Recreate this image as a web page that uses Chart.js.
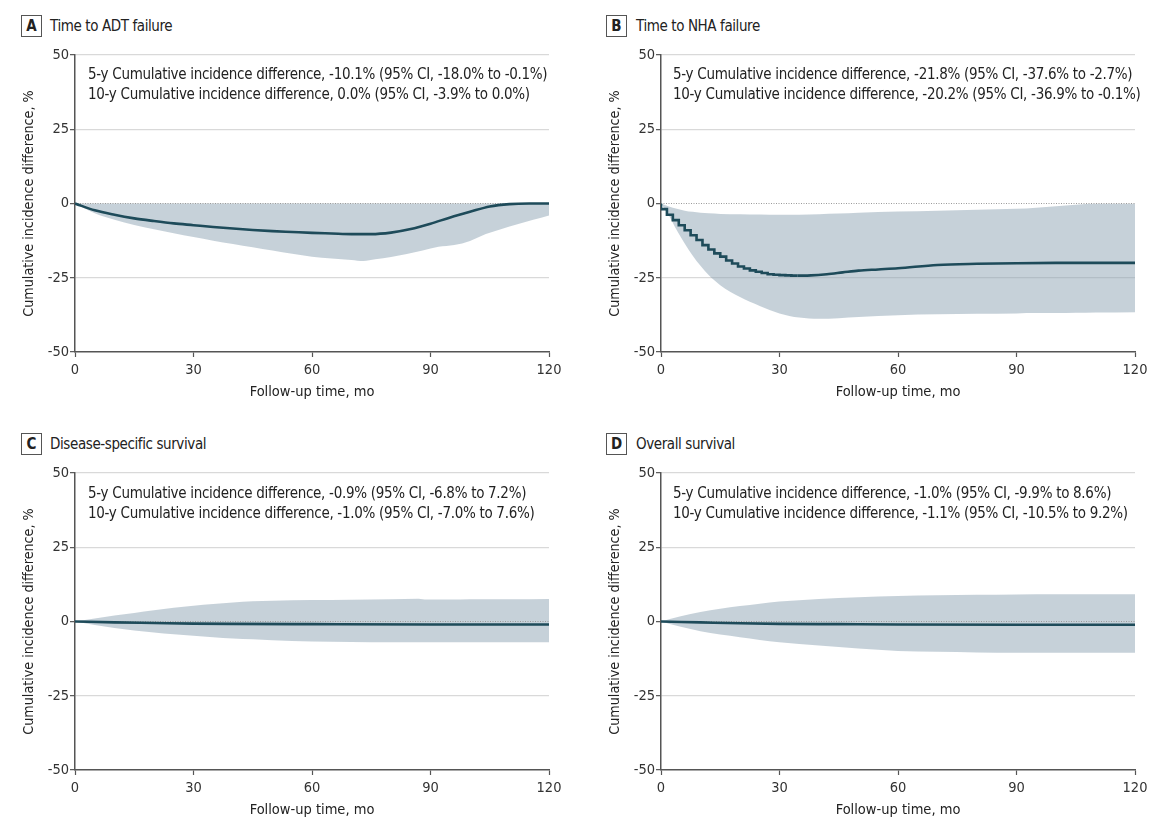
<!DOCTYPE html>
<html>
<head>
<meta charset="utf-8">
<script src="https://cdn.jsdelivr.net/npm/chart.js@4.4.0/dist/chart.umd.min.js"></script>
<style>
  body { margin: 0; background: #fff; overflow: hidden; font-family: 'DejaVu Sans Condensed', 'Liberation Sans Narrow', sans-serif; color: #222; }
  #wrap { position: relative; width: 1173px; height: 821px; }
  canvas { position: absolute; }
  .box { position: absolute; width: 19px; height: 20px; border: 1px solid #555; font-weight: bold; font-size: 15px; text-align: center; line-height: 20px; }
  .ttl { position: absolute; font-size: 15px; letter-spacing: -0.4px; line-height: 20px; }
  .note { position: absolute; font-size: 15px; letter-spacing: -0.3px; line-height: 20px; white-space: nowrap; }
</style>
</head>
<body>
<div id="wrap">
  <div class="box" style="left:21px;top:15px">A</div><div class="ttl" style="left:50px;top:16px">Time to ADT failure</div>
  <div class="box" style="left:606px;top:15px">B</div><div class="ttl" style="left:636px;top:16px">Time to NHA failure</div>
  <div class="box" style="left:21px;top:433px">C</div><div class="ttl" style="left:50px;top:434px">Disease-specific survival</div>
  <div class="box" style="left:606px;top:433px">D</div><div class="ttl" style="left:636px;top:434px">Overall survival</div>

  <canvas id="cA" width="575" height="358" style="left:0px;top:45px"></canvas>
  <canvas id="cB" width="575" height="358" style="left:586px;top:45px"></canvas>
  <canvas id="cC" width="575" height="358" style="left:0px;top:463px"></canvas>
  <canvas id="cD" width="575" height="358" style="left:586px;top:463px"></canvas>

  <div class="note" style="left:88px;top:64px">5-y Cumulative incidence difference, -10.1% (95% CI, -18.0% to -0.1%)<br>10-y Cumulative incidence difference, 0.0% (95% CI, -3.9% to 0.0%)</div>
  <div class="note" style="left:673px;top:64px">5-y Cumulative incidence difference, -21.8% (95% CI, -37.6% to -2.7%)<br>10-y Cumulative incidence difference, -20.2% (95% CI, -36.9% to -0.1%)</div>
  <div class="note" style="left:88px;top:483px">5-y Cumulative incidence difference, -0.9% (95% CI, -6.8% to 7.2%)<br>10-y Cumulative incidence difference, -1.0% (95% CI, -7.0% to 7.6%)</div>
  <div class="note" style="left:673px;top:483px">5-y Cumulative incidence difference, -1.0% (95% CI, -9.9% to 8.6%)<br>10-y Cumulative incidence difference, -1.1% (95% CI, -10.5% to 9.2%)</div>
</div>
<script>
// axis ticks
const xTicks = [0, 30, 60, 90, 120];
const yTicks = [-50, -25, 0, 25, 50];

// A: time to ADT failure
const bandMonthsA = [0, 5, 10, 15, 20, 25, 30, 35, 40, 45, 50, 55, 60, 65, 70, 73, 76, 80, 84, 88, 92, 96, 100, 104, 108, 112, 116, 120];
const lowerA = [0, -3.3, -5.5, -7.2, -8.7, -10, -11.3, -12.5, -13.6, -14.7, -15.8, -16.9, -17.9, -18.5, -19.0, -19.4, -18.8, -18.0, -17.0, -15.8, -14.6, -14.0, -12.6, -10.3, -8.6, -7.0, -5.5, -4.0];
const upperA = [0, 0, 0, 0, 0, 0, 0, 0, 0, 0, 0, 0, 0, 0, 0, 0, 0, 0, 0, 0, 0, 0, 0, 0, 0, 0, 0, 0];
const lineMonthsA = [0, 5, 10, 15, 20, 25, 30, 35, 40, 45, 50, 55, 60, 65, 70, 75, 80, 85, 90, 95, 100, 105, 110, 115, 120];
const lineA = [0, -2.3, -3.8, -5.0, -5.9, -6.7, -7.3, -7.9, -8.4, -8.9, -9.3, -9.6, -9.9, -10.1, -10.3, -10.3, -9.8, -8.6, -6.8, -4.7, -2.8, -1.0, -0.2, 0, 0];

// B: time to NHA failure
const bandMonthsB = [0, 2, 4, 6, 8, 10, 12, 15, 20, 25, 30, 35, 40, 45, 50, 60, 70, 80, 90, 95, 100, 105, 110, 120];
const lowerB = [0, -4, -9, -13.5, -17.5, -21, -24, -27.5, -31.5, -34.5, -37, -38.4, -38.8, -38.6, -38.2, -37.6, -37.3, -37.1, -37.0, -36.9, -36.9, -36.8, -36.7, -36.6];
const upperB = [0, -1.0, -1.8, -2.4, -2.8, -3.1, -3.3, -3.5, -3.6, -3.7, -3.8, -3.8, -3.6, -3.4, -3.1, -2.7, -2.4, -2.1, -1.8, -1.4, -0.9, -0.4, -0.1, -0.1];
const stepMonthsB = [0, 1.5, 3, 4.5, 6, 7.5, 9, 10.5, 12, 13.5, 15, 16.5, 18, 19.5, 21, 22.5, 24, 25.5, 27, 28.5, 30, 31.5, 33, 34.5];
const stepLineB = [0, -1.9, -3.8, -5.6, -7.3, -9.0, -10.7, -12.3, -14.0, -15.5, -16.8, -17.9, -19.2, -20.2, -21.2, -21.9, -22.5, -23.0, -23.4, -23.8, -24.0, -24.1, -24.2, -24.3];
const lineMonthsB = [34.5, 38, 42, 46, 50, 55, 60, 70, 80, 90, 100, 110, 120];
const lineB = [-24.3, -24.2, -23.8, -23.2, -22.6, -22.2, -21.8, -20.7, -20.3, -20.1, -20.0, -20.0, -20.0];

// C: disease-specific survival
const bandMonthsC = [0, 5, 10, 15, 20, 25, 30, 35, 40, 45, 50, 60, 70, 80, 87, 89, 95, 100, 110, 120];
const lowerC = [0, -1.2, -2.2, -3.0, -3.7, -4.3, -4.8, -5.3, -5.7, -6.0, -6.3, -6.7, -6.9, -7.0, -7.0, -7.0, -7.0, -7.0, -7.0, -7.0];
const upperC = [0, 1.0, 2.0, 2.9, 3.8, 4.6, 5.3, 5.9, 6.4, 6.8, 7.0, 7.2, 7.3, 7.5, 7.7, 7.4, 7.4, 7.5, 7.5, 7.6];
const lineMonthsC = [0, 10, 20, 30, 40, 60, 90, 120];
const lineC = [0, -0.3, -0.5, -0.7, -0.8, -0.9, -1.0, -1.0];

// D: overall survival
const bandMonthsD = [0, 5, 10, 15, 20, 25, 30, 40, 50, 60, 70, 80, 90, 100, 110, 120];
const lowerD = [0, -1.8, -3.3, -4.4, -5.3, -6.2, -7.0, -8.1, -9.1, -9.9, -10.2, -10.4, -10.5, -10.5, -10.5, -10.5];
const upperD = [0, 1.8, 3.2, 4.3, 5.2, 6.0, 6.7, 7.6, 8.2, 8.6, 8.8, 9.0, 9.1, 9.2, 9.2, 9.2];
const lineMonthsD = [0, 10, 20, 30, 45, 60, 90, 120];
const lineD = [0, -0.3, -0.6, -0.8, -0.9, -1.0, -1.1, -1.1];

const font = "'DejaVu Sans Condensed', 'Liberation Sans Narrow', sans-serif";
const lineColor = '#1e4b5a';
const bandColor = 'rgba(141,163,179,0.5)';
const axisColor = '#555';

function pts(xs, ys) {
    return xs.map((x, i) => ({ x: x, y: ys[i] }));
}

function makePanel(id, lines, bandX, lower, upper) {
    const sets = [];
    lines.forEach(l => {
        sets.push({
            data: pts(l.x, l.y),
            borderColor: lineColor,
            borderWidth: 2.6,
            pointRadius: 0,
            fill: false,
            stepped: l.stepped || false,
            cubicInterpolationMode: 'monotone'
        });
    });
    // dotted zero reference
    sets.push({
        data: pts([xTicks[0], xTicks[xTicks.length - 1]], [0, 0]),
        borderColor: '#9a9a9a',
        borderWidth: 1,
        borderDash: [1, 1.5],
        pointRadius: 0,
        fill: false
    });
    const lowIdx = sets.length + 1;
    sets.push({
        data: pts(bandX, upper),
        borderWidth: 0,
        borderColor: 'rgba(0,0,0,0)',
        backgroundColor: bandColor,
        pointRadius: 0,
        fill: lowIdx,
        cubicInterpolationMode: 'monotone'
    });
    sets.push({
        data: pts(bandX, lower),
        borderWidth: 0,
        borderColor: 'rgba(0,0,0,0)',
        pointRadius: 0,
        fill: false,
        cubicInterpolationMode: 'monotone'
    });

    new Chart(document.getElementById(id), {
        type: 'line',
        data: { datasets: sets },
        options: {
            responsive: false,
            animation: false,
            events: [],
            layout: { padding: { left: 0, top: 10, right: 26, bottom: 0 } },
            plugins: { legend: { display: false }, tooltip: { enabled: false } },
            scales: {
                x: {
                    type: 'linear',
                    min: xTicks[0],
                    max: xTicks[xTicks.length - 1],
                    afterBuildTicks: s => { s.ticks = xTicks.map(v => ({ value: v })); },
                    afterFit: s => { s.height = 51; },
                    grid: { drawOnChartArea: false, drawTicks: true, tickLength: 5, tickColor: axisColor, tickWidth: 1.2 },
                    border: { color: axisColor, width: 1.5 },
                    ticks: { color: '#333', font: { family: font, size: 14.5 }, padding: 5, maxRotation: 0 },
                    title: { display: true, text: 'Follow-up time, mo', color: '#222', font: { family: font, size: 14.5 }, padding: { top: 0, bottom: 2 } }
                },
                y: {
                    min: yTicks[0],
                    max: yTicks[yTicks.length - 1],
                    afterBuildTicks: s => { s.ticks = yTicks.map(v => ({ value: v })); },
                    afterFit: s => { s.width = 75; },
                    grid: {
                        color: c => (c.tick && (c.tick.value === 0 || c.tick.value === -50)) ? 'rgba(0,0,0,0)' : '#d9d9d9',
                        lineWidth: 1.3,
                        drawTicks: true, tickLength: 5, tickColor: axisColor, tickWidth: 1.2
                    },
                    border: { color: axisColor, width: 1.5 },
                    ticks: { color: '#333', font: { family: font, size: 14.5 }, padding: 1 },
                    title: { display: true, text: 'Cumulative incidence difference, %', color: '#222', font: { family: font, size: 14.2 }, padding: { top: 21, bottom: 0 } }
                }
            }
        }
    });
}

makePanel('cA', [{ x: lineMonthsA, y: lineA }], bandMonthsA, lowerA, upperA);
makePanel('cB', [{ x: stepMonthsB, y: stepLineB, stepped: 'after' }, { x: lineMonthsB, y: lineB }], bandMonthsB, lowerB, upperB);
makePanel('cC', [{ x: lineMonthsC, y: lineC }], bandMonthsC, lowerC, upperC);
makePanel('cD', [{ x: lineMonthsD, y: lineD }], bandMonthsD, lowerD, upperD);
</script>
</body>
</html>
